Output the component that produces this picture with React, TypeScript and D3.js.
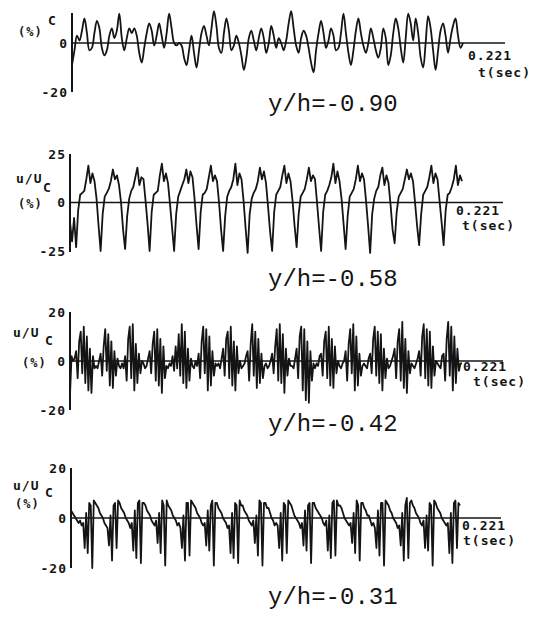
import React from 'react';
import * as d3 from 'd3';

// record length, seconds
const T_END = 0.221;

// y/h = -0.90 : irregular fluctuation (%)
const u1 = [
  -9, -3, 3, 1,
  5, 10, 4, -3, -2,
  4, 9, 6, -2, -5,
  -3, 3, 6, 2, 5, 12,
  2, -3, 2, 6, 4,
  6, 3, -4, -8, -2,
  4, 8, 5, -1, 3, 8,
  3, -2, 4, 12, 6,
  0, -1, 0, -1, -6, -9,
  -3, 3, -4, -10, -3,
  4, 7, 3, -1, 6,
  13, 7, -2, -4, 4,
  10, 5, -3, -1, 3,
  0, -5, -11, -6, 2, 5,
  1, -3, 2, 6, 2,
  -4, 0, 7, 3, -2,
  2, 0, -3, 1, 8, 13,
  6, -1, -4, 2, 5,
  3, -2, -8, -12, -3, 4,
  9, 4, -2, 1, 6, 3,
  -3, -2, 4, 12, 4, -4,
  -9, -3, 5, 10, 4,
  -1, -4, 0, 6, 2, -3,
  -6, -2, 6, 2, -9, -5,
  4, 10, 6, -2, -8,
  2, 12, 8, 1, 10, 4,
  -6, -10, 0, 11, 6, -3,
  -11, -3, 5, 8, 3, -4,
  2, 7, 10, 3, -2, 0,
];

// y/h = -0.58 : strong periodic component
const u2 = [
  -10, -20, -8,
  -23, -4, 4, 5, 6, 12, 19, 10, 15, 11, 2, -12,
  -25, -6, 3, 5, 7, 11, 17, 12, 14, 9, 0, -14,
  -24, -7, 2, 6, 8, 13, 18, 9, 13, 12, 1, -11,
  -25, -5, 4, 5, 6, 14, 20, 11, 15, 10, -1, -13,
  -25, -6, 3, 6, 9, 12, 17, 10, 16, 13, 2, -12,
  -24, -5, 4, 5, 7, 13, 19, 11, 14, 11, 0, -14,
  -25, -7, 3, 6, 8, 12, 20, 9, 15, 12, 1, -13,
  -26, -6, 2, 5, 7, 11, 18, 12, 16, 10, -2, -15,
  -25, -5, 4, 6, 8, 14, 19, 10, 15, 11, 1, -12,
  -23, -6, 3, 5, 7, 12, 18, 11, 14, 12, 0, -13,
  -25, -5, 4, 6, 9, 13, 20, 10, 16, 11, 2, -11,
  -24, -7, 3, 5, 7, 12, 19, 11, 15, 12, 1, -12,
  -26, -6, 2, 6, 8, 14, 18, 9, 14, 10, -1, -14,
  -21, -5, 3, 5, 7, 12, 17, 12, 15, 11, 0, -12,
  -22, -6, 4, 6, 8, 13, 19, 10, 15, 12, 1, -10,
  -22, -4, 4, 5, 8, 12, 19, 9, 14, 11,
];

// y/h = -0.42 : bursts of spikes
const u3 = [
  -14, 2, 0, 1, 4, -7, 8, 12, -5, 14, -9, 10, -12, 5, -13, 2,
  -3, -2, -3, 0, 3, -6, 6, 13, -4, 11, -10, 8, -11, 4, -6, 1,
  -2, -3, -1, -3, 2, -8, 9, 14, -7, 15, -12, 7, -9, 3, -5, 0,
  -1, -3, -2, 1, 4, -5, 7, 12, -8, 13, -10, 9, -13, 6, -7, -2,
  -3, -1, -2, 2, -4, 6, -3, 11, -6, 15, -9, 12, -11, 5, -8, 1,
  -2, -3, 0, -2, 3, -7, 8, 14, -5, 13, -12, 10, -10, 4, -6, -1,
  -2, -1, -3, 1, 5, -6, 9, 12, -7, 14, -10, 8, -12, 6, -5, 0,
  -3, -2, -1, 2, 4, -8, 7, 15, -6, 12, -11, 9, -9, 3, -7, -2,
  -1, -3, -2, 0, 3, -5, 6, 13, -8, 15, -9, 11, -13, 5, -6, 1,
  -2, -2, -3, 1, 5, -7, 10, 14, -12, 13, -16, 8, -17, 4, -8, -1,
  -3, -1, -2, 2, 3, -6, 8, 12, -7, 14, -10, 9, -11, 6, -5, 0,
  -2, -3, -1, 0, 4, -8, 7, 13, -5, 15, -12, 10, -10, 3, -6, -2,
  -1, -2, -3, 1, 3, -5, 9, 14, -6, 12, -9, 11, -12, 5, -7, 1,
  -3, -2, 0, 2, 5, -7, 8, 13, -8, 16, -11, 9, -13, 4, -5, -1,
  -2, -3, -1, 1, 4, -6, 10, 15, -7, 13, -10, 12, -11, 6, -6, 0,
  -1, -2, -3, 2, 3, -8, 9, 16, -6, 14, -12, 10, -9, 5, -4, -1,
  -1,
];

// y/h = -0.31 : sawtooth with downward spikes
const u4 = [
  3, 2, 1, 0, -1, -2, -1, -3, -2, -12, 2, -14, 6, 5, -20, 7,
  6, 5, 4, 2, 1, 0, -2, -3, -4, -11, 1, -17, 5, 6, -12, 7,
  6, 4, 3, 2, 0, -1, -2, -4, -2, -13, 3, -16, 6, 7, -18, 6,
  6, 5, 3, 2, 1, -1, -2, -3, -1, -10, 2, -14, 7, 5, -19, 7,
  5, 4, 3, 1, 0, -1, -3, -2, -4, -12, 1, -17, 6, 6, -15, 7,
  6, 5, 4, 2, 1, 0, -2, -3, -2, -11, 3, -13, 5, 7, -19, 6,
  6, 4, 3, 2, 0, -1, -2, -4, -3, -14, 2, -16, 6, 5, -18, 7,
  5, 5, 3, 2, 1, -1, -2, -3, -1, -10, 1, -15, 7, 6, -19, 6,
  6, 4, 4, 2, 0, -1, -3, -2, -3, -12, 2, -17, 6, 5, -14, 7,
  6, 5, 3, 1, 0, -1, -2, -4, -2, -11, 3, -13, 5, 6, -18, 6,
  6, 4, 3, 2, 1, 0, -2, -3, -1, -13, 1, -16, 6, 7, -15, 7,
  5, 5, 4, 2, 0, -1, -2, -3, -2, -10, 2, -14, 7, 5, -17, 6,
  6, 4, 3, 1, 1, -1, -3, -2, -4, -12, 3, -15, 6, 6, -19, 7,
  6, 5, 3, 2, 0, -1, -2, -4, -3, -11, 2, -17, 5, 8, -16, 6,
  7, 5, 4, 2, 1, 0, -2, -3, -1, -12, 1, -13, 6, 5, -19, 7,
  6, 4, 3, 2, 0, -1, -2, -3, -2, -14, 2, -18, 6, 7, -12, 6,
  5,
];

const stations = ['y/h=-0.90', 'y/h=-0.58', 'y/h=-0.42', 'y/h=-0.31'];
const ticks1 = [0, -20];
const ticks2 = [25, 0, -25];
const ticks3 = [20, 0, -20];
const ticks4 = [20, 0, -20];

const INK = '#141414';
const tickFont = { fontFamily: '"DejaVu Sans Mono", monospace', fontWeight: 'bold' as const, fontSize: 13, letterSpacing: 1 };

type PanelSpec = {
  values: number[];
  ticks: number[];
  domain: [number, number];
  range: [number, number];
  ax: number;
  axTop: number;
  axBottom: number;
  tEnd: number;
  zeroEnd: number;
  curve: d3.CurveFactory;
  label: string;
  labelY: number;
  tLabel: [number, number, number, number]; // x0.221, y0.221, xt, yt
  ylab: { u?: [number, number]; c: [number, number]; pct: [number, number] };
};

function Panel({ p }: { p: PanelSpec }) {
  const x = d3.scaleLinear().domain([0, T_END]).range([p.ax, p.tEnd]);
  const y = d3.scaleLinear().domain(p.domain).range(p.range);
  const dt = T_END / (p.values.length - 1);
  const line = d3.line<number>()
    .x((d, i) => x(i * dt))
    .y(d => y(d))
    .curve(p.curve);
  const y0 = y(0);

  return (
    <g>
      <line x1={p.ax} x2={p.ax} y1={p.axTop} y2={p.axBottom} stroke={INK} strokeWidth={2} />
      <line x1={p.ax} x2={p.zeroEnd} y1={y0} y2={y0} stroke={INK} strokeWidth={1.3} />
      <path d={line(p.values) || ''} fill="none" stroke={INK} strokeWidth={1.8} strokeLinejoin="round" />
      {p.ticks.map(t => (
        <text key={t} x={p.ax - 4} y={y(t)} dy="0.36em" textAnchor="end" fill={INK} style={tickFont}>
          {t}
        </text>
      ))}
      {p.ylab.u && (
        <text x={p.ylab.u[0]} y={p.ylab.u[1]} fill={INK} style={tickFont}>u/U</text>
      )}
      <text x={p.ylab.c[0]} y={p.ylab.c[1]} fill={INK} style={tickFont}>C</text>
      <text x={p.ylab.pct[0]} y={p.ylab.pct[1]} fill={INK} style={{ ...tickFont, fontSize: 12 }}>(%)</text>
      <text x={p.tLabel[0]} y={p.tLabel[1]} fill={INK} style={tickFont}>0.221</text>
      <text x={p.tLabel[2]} y={p.tLabel[3]} fill={INK} style={tickFont}>t(sec)</text>
      <text x={268} y={p.labelY} fill={INK}
        style={{ fontFamily: '"Liberation Mono", "Courier New", monospace', fontSize: 24 }}>
        {p.label}
      </text>
    </g>
  );
}

const panels: PanelSpec[] = [
  {
    values: u1, ticks: ticks1, domain: [-20, 20], range: [92, -6],
    ax: 72, axTop: 13, axBottom: 92, tEnd: 463, zeroEnd: 505,
    curve: d3.curveCatmullRom, label: stations[0], labelY: 111,
    tLabel: [468, 60, 478, 77],
    ylab: { c: [48, 25], pct: [18, 36] },
  },
  {
    values: u2, ticks: ticks2, domain: [-25, 25], range: [251, 154],
    ax: 70, axTop: 154, axBottom: 252, tEnd: 462, zeroEnd: 503,
    curve: d3.curveLinear, label: stations[1], labelY: 286,
    tLabel: [456, 215, 462, 230],
    ylab: { u: [16, 183], c: [43, 192], pct: [18, 208] },
  },
  {
    values: u3, ticks: ticks3, domain: [-20, 20], range: [410, 312],
    ax: 70, axTop: 312, axBottom: 410, tEnd: 462, zeroEnd: 503,
    curve: d3.curveLinear, label: stations[2], labelY: 431,
    tLabel: [463, 371, 473, 386],
    ylab: { u: [13, 337], c: [45, 345], pct: [22, 367] },
  },
  {
    values: u4, ticks: ticks4, domain: [-20, 20], range: [568, 468],
    ax: 71, axTop: 468, axBottom: 568, tEnd: 460, zeroEnd: 501,
    curve: d3.curveLinear, label: stations[3], labelY: 604,
    tLabel: [462, 530, 463, 545],
    ylab: { u: [13, 490], c: [45, 497], pct: [15, 508] },
  },
];

export default function App() {
  return (
    <svg width={549} height={619} style={{ position: 'absolute', left: 0, top: 0, background: '#fff' }}>
      <rect width={549} height={619} fill="#fff" />
      {panels.map((p, i) => <Panel key={i} p={p} />)}
    </svg>
  );
}
